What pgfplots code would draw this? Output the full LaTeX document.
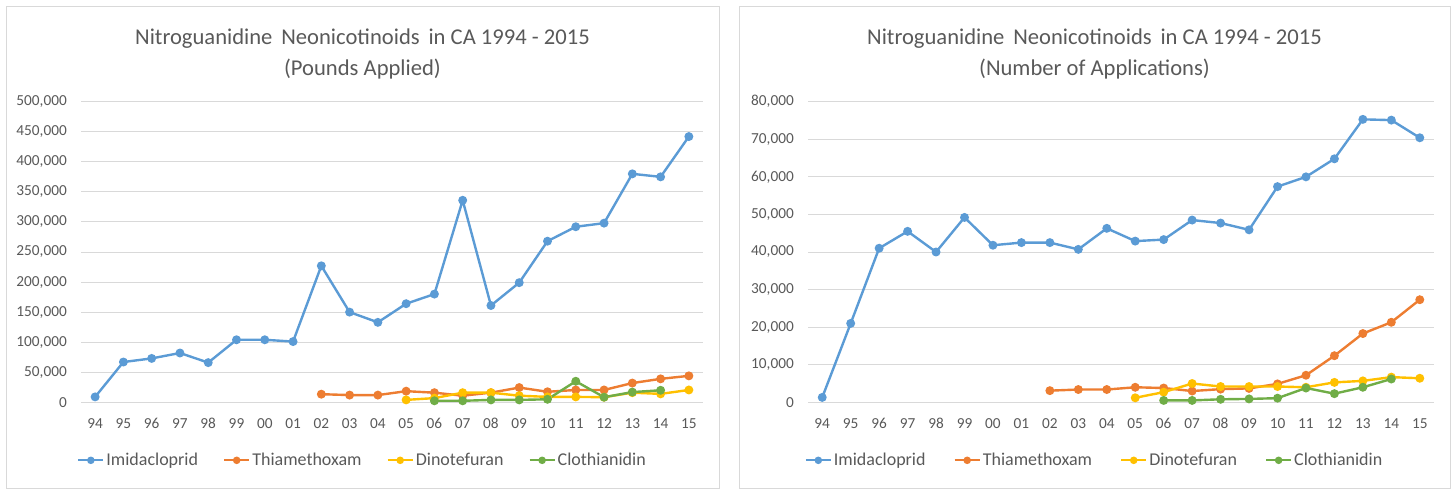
\documentclass[border=0pt]{standalone}
\usepackage{fontspec}
\setmainfont{Carlito}
\usepackage{pgfplots}
\pgfplotsset{compat=1.18}
\definecolor{cblue}{HTML}{5B9BD5}
\definecolor{corange}{HTML}{ED7D31}
\definecolor{cyellow}{HTML}{FFC000}
\definecolor{cgreen}{HTML}{70AD47}
\definecolor{ctext}{HTML}{595959}
\definecolor{cgrid}{HTML}{D9D9D9}
\pgfplotsset{
  mystyle/.style={
    scale only axis, height=300.6pt,
    xmin=-0.5, xmax=21.5, ymin=0,
    xtick={0,...,21},
    xticklabels={94,95,96,97,98,99,00,01,02,03,04,05,06,07,08,09,10,11,12,13,14,15},
    axis line style={draw=none},
    major tick length=0pt,
    ymajorgrids, grid style={cgrid, line width=1pt},
    tick label style={font=\fontsize{15.3}{18}\selectfont, text=ctext},
    xticklabel style={anchor=center, inner sep=0pt, yshift=-21pt},
    yticklabel style={anchor=east, inner sep=0pt, xshift=-14pt,
      /pgf/number format/fixed, /pgf/number format/1000 sep={,}},
    /pgf/number format/assume math mode=true,
    scaled y ticks=false,
    clip=false,
    legend columns=4,
    legend image code/.code={
      \draw[##1, line width=2.2pt] (0pt,0pt) -- (25pt,0pt);
      \fill[##1] (12.5pt,0pt) circle (2.5pt);
    },
    every axis plot/.append style={line width=2.4pt, mark=*, mark size=3.2pt},
  },
}
\begin{document}
\begin{tikzpicture}[x=1pt,y=1pt]
\path[use as bounding box] (0,0) rectangle (1453,490);
\draw[cgrid, line width=1pt] (6,483) rectangle (719,2);
\draw[cgrid, line width=1pt] (739,483) rectangle (1450,2);
\node[anchor=base, font=\fontsize{22.6}{26}\selectfont, text=ctext] at (362.5,445) {Nitroguanidine\, Neonicotinoids\, in CA 1994 - 2015};
\node[anchor=base, font=\fontsize{22.6}{26}\selectfont, text=ctext] at (362.5,414) {(Pounds Applied)};
\node[anchor=base, font=\fontsize{22.6}{26}\selectfont, text=ctext] at (1094.5,445) {Nitroguanidine\, Neonicotinoids\, in CA 1994 - 2015};
\node[anchor=base, font=\fontsize{22.6}{26}\selectfont, text=ctext] at (1094.5,414) {(Number of Applications)};

\begin{axis}[mystyle, at={(81pt,87.7pt)}, anchor=south west, width=622pt,
  ymax=500000, ytick={0,50000,...,500000},
  legend style={draw=none, fill=none, at={(0.4526,-0.193)}, anchor=center,
    font=\fontsize{18}{20}\selectfont, text=ctext,
    /tikz/every even column/.append style={column sep=23pt}}]
\addplot[cblue] coordinates {(0,9000)(1,67000)(2,73000)(3,82000)(4,66000)(5,104000)(6,104000)(7,101000)(8,227000)(9,150000)(10,133000)(11,164000)(12,180000)(13,336000)(14,161000)(15,199000)(16,268000)(17,292000)(18,298000)(19,380000)(20,375000)(21,442000)};
\addplot[corange] coordinates {(8,13500)(9,12000)(10,12000)(11,18500)(12,16000)(13,11000)(14,16000)(15,24500)(16,17500)(17,20500)(18,20500)(19,32000)(20,39000)(21,44000)};
\addplot[cyellow] coordinates {(11,4000)(12,7000)(13,16000)(14,16000)(15,11000)(16,9000)(17,9000)(18,8500)(19,16000)(20,14000)(21,20500)};
\addplot[cgreen] coordinates {(12,2500)(13,2500)(14,4000)(15,4000)(16,5000)(17,35000)(18,8500)(19,17000)(20,20000)};
\legend{Imidacloprid,Thiamethoxam,Dinotefuran,Clothianidin}
\end{axis}

\begin{axis}[mystyle, at={(808pt,87.7pt)}, anchor=south west, width=626pt,
  ymax=80000, ytick={0,10000,...,80000},
  legend style={draw=none, fill=none, at={(0.4577,-0.193)}, anchor=center,
    font=\fontsize{18}{20}\selectfont, text=ctext,
    /tikz/every even column/.append style={column sep=26pt}}]
\addplot[cblue] coordinates {(0,1300)(1,21000)(2,41000)(3,45500)(4,40000)(5,49200)(6,41800)(7,42500)(8,42500)(9,40700)(10,46300)(11,42900)(12,43300)(13,48500)(14,47700)(15,45900)(16,57400)(17,60000)(18,64800)(19,75300)(20,75100)(21,70400)};
\addplot[corange] coordinates {(8,3100)(9,3400)(10,3400)(11,4000)(12,3800)(13,3000)(14,3500)(15,3700)(16,4900)(17,7200)(18,12400)(19,18300)(20,21300)(21,27300)};
\addplot[cyellow] coordinates {(11,1200)(12,2700)(13,5000)(14,4200)(15,4200)(16,4200)(17,4000)(18,5300)(19,5700)(20,6700)(21,6400)};
\addplot[cgreen] coordinates {(12,500)(13,500)(14,800)(15,900)(16,1100)(17,3800)(18,2300)(19,4000)(20,6200)};
\legend{Imidacloprid,Thiamethoxam,Dinotefuran,Clothianidin}
\end{axis}
\end{tikzpicture}
\end{document}
